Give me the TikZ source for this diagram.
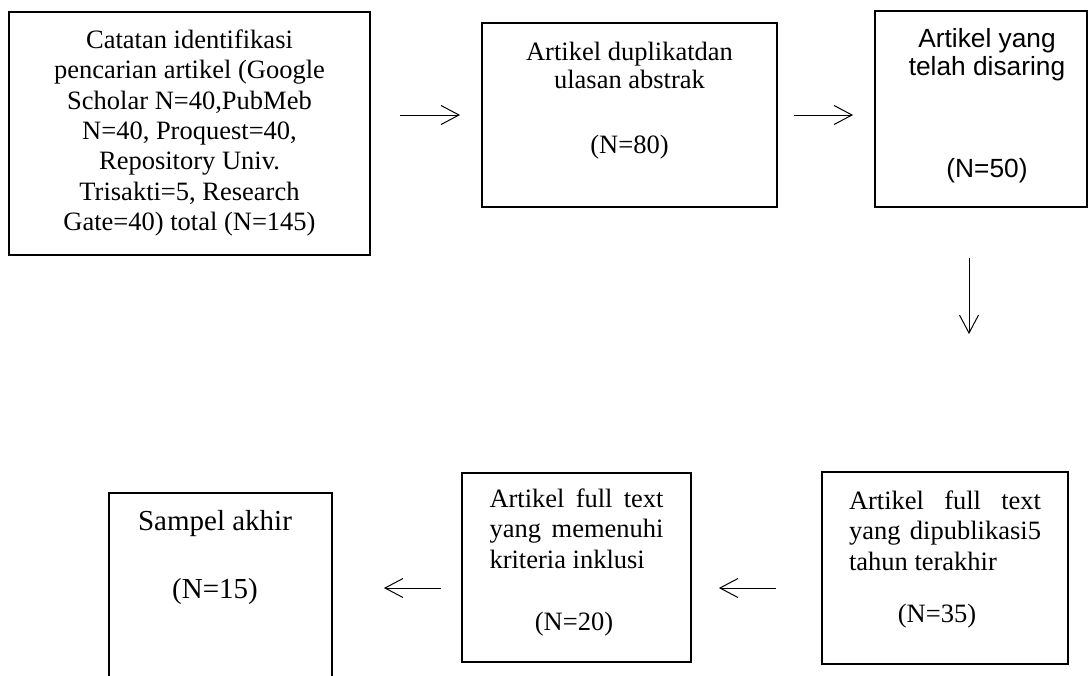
\documentclass[tikz,border=0pt]{standalone}
\usepackage{fontspec}
\setmainfont{Liberation Serif}
\newfontfamily\arialfont{Liberation Sans}
\usetikzlibrary{arrows.meta}
\tikzset{
  flowbox/.style={draw=black, line width=1.8pt, inner sep=0pt, rectangle},
  arr/.style={-{Straight Barb[length=18pt,width=19pt,line width=1pt]}, line width=1pt},
}
\newcommand\serifsz{\fontsize{26.5}{30.3}\selectfont}
\begin{document}
\begin{tikzpicture}[x=1pt,y=-1pt]
\useasboundingbox (0,0) rectangle (1089,675);
\clip (0,0) rectangle (1089,675);

\node[flowbox] (box1) at (189.5,133.5) {\parbox[c][243pt][t]{361pt}{\serifsz\centering\vspace*{17.9pt}\rule{0pt}{18.1pt}Catatan identifikasi\\ pencarian artikel (Google\\ Scholar N=40,PubMeb\\ N=40, Proquest=40,\\ Repository Univ.\\ Trisakti=5, Research\\ Gate=40) total (N=145)}};

\node[flowbox] (box2) at (629.5,115) {\parbox[c][184pt][t]{295pt}{\fontsize{26.5}{28}\selectfont\centering\vspace*{18.9pt}\rule{0pt}{18.1pt}Artikel duplikatdan\\ ulasan abstrak\\[37pt] (N=80)}};

\node[flowbox] (box3) at (981,109) {\parbox[c][196pt][t]{212pt}{\arialfont\fontsize{26.3}{28}\selectfont\centering\vspace*{17.2pt}\hspace*{12pt}\rule{0pt}{18.8pt}Artikel yang\\ \hspace*{12pt}telah disaring\\[74pt] \hspace*{12pt}(N=50)}};

\node[flowbox] (box4) at (945,568) {\parbox[c][192pt][t]{246pt}{\serifsz\centering\vspace*{18.9pt}\rule{0pt}{18.1pt}\makebox[192pt][s]{Artikel full text}\\ \makebox[192pt][s]{yang dipublikasi5}\\ \makebox[192pt][l]{tahun terakhir}\\[21.7pt] \hspace*{-16pt}(N=35)}};

\node[flowbox] (box5) at (576.5,567.5) {\parbox[c][189pt][t]{229pt}{\serifsz\centering\vspace*{15.9pt}\rule{0pt}{18.1pt}\makebox[174pt][s]{Artikel full text}\\ \makebox[174pt][s]{yang memenuhi}\\ \makebox[174pt][l]{kriteria inklusi}\\[31.7pt] \hspace*{-5pt}(N=20)}};

\node[flowbox] (box6) at (220.5,588) {\parbox[c][190pt][t]{223pt}{\fontsize{29}{33}\selectfont\centering\vspace*{17.2pt}\hspace*{-11pt}\rule{0pt}{19.8pt}Sampel akhir\\[35pt] \hspace*{-11pt}(N=15)}};

\draw[arr, shorten <=29pt, shorten >=21pt] (box1.east |- box2.west) -- (box2.west);
\draw[arr, shorten <=16pt, shorten >=21pt] (box2.east) -- (box3.west |- box2.east);
\draw[arr, shorten <=50pt, shorten >=137pt] ([xshift=-12pt]box3.south) -- ([xshift=-12pt]box3.south |- box4.north);
\draw[arr, shorten <=45pt, shorten >=27pt] ([yshift=-20pt]box4.west) -- ([yshift=-20pt]box4.west -| box5.east);
\draw[arr, shorten <=20pt, shorten >=51pt] ([yshift=-20.5pt]box5.west) -- ([yshift=-20.5pt]box5.west -| box6.east);
\end{tikzpicture}
\end{document}
